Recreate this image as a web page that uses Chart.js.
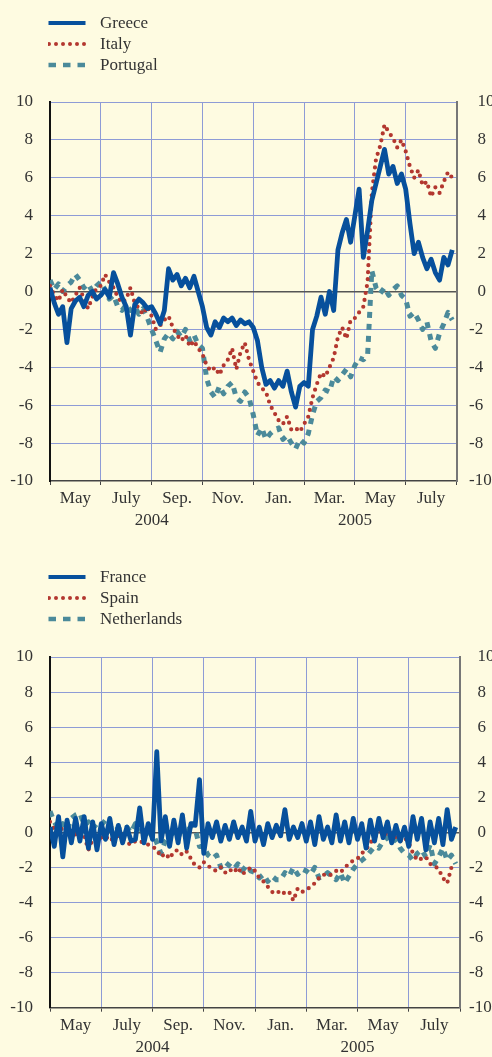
<!DOCTYPE html>
<html>
<head>
<meta charset="utf-8">
<script src="https://cdn.jsdelivr.net/npm/chart.js@4.4.1/dist/chart.umd.min.js"></script>
<style>
  html, body { margin: 0; padding: 0; background: #fefbe1; overflow: hidden; }
  body { width: 492px; height: 1057px; position: relative; font-family: 'Liberation Serif', serif; }
  .box { position: absolute; left: 0; width: 492px; }
  .legend { position: absolute; left: 48px; font-size: 17px; color: #333; }
  .legend div { height: 21.2px; display: flex; align-items: center; }
  .legend svg { margin-right: 14px; }
</style>
</head>
<body>
<div class="box" style="top:0;height:545px"><canvas id="chart1"></canvas></div>
<div class="legend" id="legend1" style="top:12px"></div>
<div class="box" style="top:545px;height:512px"><canvas id="chart2"></canvas></div>
<div class="legend" id="legend2" style="top:566.5px"></div>
<script>
// spreads, one value every ~5 days from 1 May 2004 (6 per month)
let greece = [
  0.2, -0.6, -1.2, -0.8, -2.7, -0.9,   // May 04
  -0.5, -0.3, -0.8, -0.2, 0.0, -0.4,   // Jun
  -0.2, 0.1, -0.3, 1.0, 0.4, -0.3,     // Jul
  -0.8, -2.3, -0.7, -0.4, -0.6, -0.9,  // Aug
  -0.8, -1.2, -1.7, -1.0, 1.2, 0.6,    // Sep
  0.9, 0.3, 0.7, 0.2, 0.8, 0.0,        // Oct
  -0.8, -1.9, -2.3, -1.6, -1.9, -1.4,  // Nov
  -1.6, -1.4, -1.8, -1.5, -1.7, -1.6,  // Dec
  -1.9, -2.6, -4.0, -4.9, -4.7, -5.1,  // Jan 05
  -4.7, -5.0, -4.2, -5.3, -6.1, -5.0,  // Feb
  -4.8, -5.0, -2.0, -1.3, -0.3, -1.2,  // Mar
  0.0, -1.0, 2.2, 3.1, 3.8, 2.6,       // Apr
  4.0, 5.4, 1.8, 3.2, 4.8, 5.7,        // May
  6.6, 7.5, 6.2, 6.6, 5.7, 6.2,        // Jun
  5.4, 3.6, 2.0, 2.6, 1.8, 1.2,        // Jul
  1.7, 1.0, 0.6, 1.8, 1.4, 2.2         // Aug
];
let italy = [
  0.3, -0.2, -0.5, 0.1, -0.3, -0.6,
  -0.2, 0.2, -0.4, -0.9, -0.3, 0.2,
  0.3, 0.9, 0.5, 0.2, -0.3, -0.6,
  -0.4, 0.2, -0.6, -0.9, -1.2, -0.8,
  -1.3, -2.0, -1.8, -1.5, -1.3, -1.9,
  -2.3, -2.6, -2.3, -2.9, -2.6, -3.0,
  -3.3, -3.9, -4.2, -4.0, -4.4, -3.9,
  -3.6, -3.0, -4.1, -3.2, -2.7, -3.6,
  -4.2, -4.8, -5.1, -5.3, -6.0, -6.4,
  -6.8, -7.0, -6.6, -7.3, -7.2, -7.4,
  -7.0, -6.6, -5.6, -4.9, -4.3, -4.5,
  -4.0, -3.5, -2.4, -1.9, -2.5, -1.5,
  -1.4, -1.1, -0.8, 0.5, 5.2, 7.0,
  7.7, 8.8, 8.4, 8.1, 7.6, 8.0,
  7.4, 6.6, 6.0, 6.4, 5.6, 5.8,
  5.0, 5.5, 5.2, 5.8, 6.3, 6.0
];
let portugal = [
  0.6, 0.1, 0.4, 0.0, 0.3, 0.5,
  0.9, 0.6, 0.2, 0.4, 0.0, 0.3,
  0.5, 0.1, -0.4, -0.2, -0.8, -1.0,
  -0.7, -1.0, -0.8, -1.2, -0.9, -1.4,
  -2.0, -2.6, -3.2, -2.5, -2.2, -2.5,
  -2.1, -2.4, -2.0, -2.6, -2.3, -2.8,
  -3.0, -4.6, -5.3, -5.6, -5.0, -5.4,
  -5.0, -4.8, -5.6, -5.8, -5.3, -5.6,
  -6.5, -7.6, -7.2, -7.8, -7.5, -7.3,
  -7.2, -7.8, -7.6, -8.0, -8.3, -7.8,
  -8.0, -7.5, -6.5, -5.8, -5.6, -5.2,
  -5.3, -4.5, -4.7, -4.4, -4.1, -4.5,
  -3.9, -3.5, -3.6, -3.4, 1.1, 0.2,
  -0.1, 0.2, -0.2, 0.1, 0.3, -0.2,
  -0.4, -1.3, -1.1, -1.5, -2.0, -1.6,
  -2.6, -3.0, -2.2, -1.7, -1.1, -1.5
];
let france = [
  0.3, -0.8, 0.9, -1.4, 0.7, -0.6,
  0.8, -0.5, 0.9, -0.9, 0.6, -1.0,
  0.5, -0.4, 0.8, -0.7, 0.4, -0.6,
  0.3, -0.5, -0.4, 1.4, -0.6, 0.5,
  -0.4, 4.6, -0.5, 0.9, -0.8, 0.7,
  -0.6, 1.0, -0.9, 0.5, 0.4, 3.0,
  -1.2, 0.5, -0.3, 0.6, -0.5, 0.4,
  -0.4, 0.6, -0.3, 0.3, -0.5, 1.2,
  -0.5, 0.3, -0.7, 0.5, -0.3, 0.4,
  -0.2, 1.3, -0.4, 0.3, -0.3, 0.5,
  -0.5, 0.6, -0.7, 0.9, -0.4, 0.3,
  -0.6, 1.0, -0.5, 0.6, -0.6, 0.8,
  -0.4, 0.5, -0.9, 0.7, -0.5, 0.8,
  -0.3, 0.6, -0.6, 0.4, -0.5, 0.3,
  -0.8, 0.9, -0.4, 0.8, -1.0, 0.6,
  -0.6, 0.8, -0.7, 1.3, -0.4, 0.3
];
let spain = [
  0.6, 0.2, -0.1, 0.3, 0.1, -0.3,
  -0.1, 0.1, -0.2, -1.0, -0.4, -0.2,
  -0.3, -0.2, -0.5, -0.3, -0.2, -0.4,
  -0.6, -0.7, -0.5, -0.5, -0.6, -0.7,
  -0.8, -1.0, -1.4, -1.2, -1.5, -1.1,
  -1.0, -1.3, -1.1, -1.5, -1.9, -2.0,
  -1.7, -1.9, -2.1, -2.2, -2.0, -2.3,
  -2.1, -2.3, -2.0, -2.4, -2.2, -2.0,
  -2.2, -2.6, -2.8, -3.1, -3.4, -3.5,
  -3.3, -3.5, -3.4, -3.9, -3.2, -3.4,
  -3.3, -3.1, -2.9, -2.6, -2.4, -2.5,
  -2.4, -2.2, -2.3, -2.0, -1.8, -1.6,
  -1.5, -1.2, -1.0, -0.6, -0.3, 0.0,
  0.1, -0.2, 0.0, -0.3, -0.5, -0.3,
  -0.6, -1.2, -1.6, -1.5, -1.4, -1.8,
  -1.9, -2.1, -2.6, -2.9, -2.0, -2.2
];
let netherlands = [
  1.2, 0.6, 0.2, 0.5, 0.1, 0.8,
  1.0, 1.1, 0.4, 0.6, 0.2, 0.5,
  0.4, 0.7, 0.3, 0.5, 0.2, 0.1,
  0.3, 0.0, 0.5, 0.2, 0.0, -0.2,
  0.0, -0.6, -1.2, -0.5, -0.2, 0.0,
  -0.3, 0.3, -0.2, 0.6, 0.2, -0.8,
  -0.8, -1.3, -1.5, -1.3, -2.0, -1.7,
  -1.9, -2.1, -1.8, -2.2, -1.9, -2.2,
  -2.3, -2.6, -2.4, -2.8, -2.5, -2.7,
  -2.7, -2.3, -2.5, -2.0, -2.4, -2.1,
  -2.2, -2.4, -2.0, -2.6, -2.5, -2.3,
  -2.5, -2.7, -2.3, -2.9, -2.5, -2.1,
  -1.8, -1.6, -1.4, -1.1, -0.8, -0.9,
  -0.5, -0.3, -0.6, -0.4, -0.9, -1.2,
  -1.3, -1.6, -1.2, -1.0, -1.4, -0.7,
  -1.8, -1.4, -0.9, -1.6, -1.3, -1.8
];

// x position = months since 1 May 2004
let months = greece.map((v, i) => i / 6);
let monthLabels = ['May', 'July', 'Sep.', 'Nov.', 'Jan.', 'Mar.', 'May', 'July'];
let yearLabels = ['2004', '2005'];
let yTicks = [-10, -8, -6, -4, -2, 0, 2, 4, 6, 8, 10];

let gridColor = '#8e9bd6';
let clear = 'rgba(0,0,0,0)';

let solidStyle = { color: '#07509c', borderWidth: 4.8, borderDash: [], cap: 'butt', legendWidth: 4, legendDash: '' };
let dotStyle = { color: '#b3372f', borderWidth: 4.2, borderDash: [0, 7], cap: 'round', legendWidth: 4, legendDash: '0 7' };
let dashStyle = { color: '#4b8a9a', borderWidth: 5, borderDash: [6, 6], cap: 'butt', legendWidth: 4.5, legendDash: '7.5 7' };

Chart.defaults.font.family = "'Liberation Serif', serif";
Chart.defaults.font.size = 17;
Chart.defaults.color = '#333';

function xLabel(v) {
  if (v % 2 === 1) return monthLabels[(v - 1) / 2];
  if (v === 4) return ['', yearLabels[0]];
  if (v === 12) return ['', yearLabels[1]];
  return '';
}

function makeChart(canvasId, legendId, series, box) {
  let datasets = series.map(s => ({
    label: s.label,
    data: s.values.map((v, i) => ({ x: months[i], y: v })),
    borderColor: s.style.color,
    borderWidth: s.style.borderWidth,
    borderDash: s.style.borderDash,
    borderCapStyle: s.style.cap,
    borderJoinStyle: 'round',
    pointRadius: 0,
    tension: 0,
    fill: false
  }));

  new Chart(document.getElementById(canvasId), {
    type: 'line',
    data: { datasets: datasets },
    options: {
      animation: false,
      responsive: true,
      maintainAspectRatio: false,
      layout: { padding: { top: box.top, bottom: box.bottom, left: 0, right: 0 } },
      plugins: { legend: { display: false }, tooltip: { enabled: false } },
      scales: {
        x: {
          type: 'linear', min: 0, max: 16,
          afterBuildTicks: axis => { axis.ticks = months.filter((m, i) => i % 6 === 0).concat([16]).map(m => ({ value: Math.round(m) })); },
          afterFit: axis => { axis.height = box.xHeight; },
          grid: {
            color: c => (c.tick && c.tick.value % 2 === 0) ? gridColor : clear,
            tickColor: c => (c.tick && c.tick.value % 2 === 0) ? '#444' : clear,
            tickLength: 4, lineWidth: 1
          },
          border: { color: '#444', width: 1.5 },
          ticks: { autoSkip: false, maxRotation: 0, padding: 2.5, callback: xLabel, font: { lineHeight: 1.3 } }
        },
        y: {
          position: 'left', min: -10, max: 10,
          afterBuildTicks: axis => { axis.ticks = yTicks.map(v => ({ value: v })); },
          afterFit: axis => { axis.width = 50; },
          grid: {
            color: c => c.tick.value === 0 ? '#555' : (c.tick.value === -10 ? clear : gridColor),
            lineWidth: c => c.tick.value === 0 ? 1.5 : 1,
            drawTicks: false
          },
          border: { color: '#111', width: 2 },
          ticks: { padding: 17 }
        },
        y2: {
          position: 'right', min: -10, max: 10,
          afterBuildTicks: axis => { axis.ticks = yTicks.map(v => ({ value: v })); },
          afterFit: axis => { axis.width = box.rightWidth; },
          grid: { color: clear, drawTicks: false },
          border: { color: '#777', width: 2 },
          ticks: { padding: box.rightPad, callback: v => (v >= 0 ? '\u2002' : '') + v }
        }
      }
    }
  });

  // legend as html rows: line sample + name
  let legend = document.getElementById(legendId);
  series.forEach(s => {
    let row = document.createElement('div');
    let st = s.style;
    row.innerHTML = '<svg width="38" height="8"><line x1="' + (st.cap === 'round' ? 1 : 0.5) + '" y1="4" x2="' +
      (st.cap === 'round' ? 37 : 37.5) + '" y2="4" stroke="' + st.color + '" stroke-width="' + st.legendWidth +
      '" stroke-linecap="' + st.cap + '"' + (st.legendDash ? ' stroke-dasharray="' + st.legendDash + '"' : '') +
      '/></svg><span>' + s.label + '</span>';
    legend.appendChild(row);
  });
}

makeChart('chart1', 'legend1', [
  { label: 'Greece', values: greece, style: solidStyle },
  { label: 'Italy', values: italy, style: dotStyle },
  { label: 'Portugal', values: portugal, style: dashStyle }
], { top: 102, bottom: 4, xHeight: 60, rightWidth: 35.5, rightPad: 12.5 });

makeChart('chart2', 'legend2', [
  { label: 'France', values: france, style: solidStyle },
  { label: 'Spain', values: spain, style: dotStyle },
  { label: 'Netherlands', values: netherlands, style: dashStyle }
], { top: 112, bottom: 4.3, xHeight: 45, rightWidth: 32, rightPad: 9 });
</script>
</body>
</html>
